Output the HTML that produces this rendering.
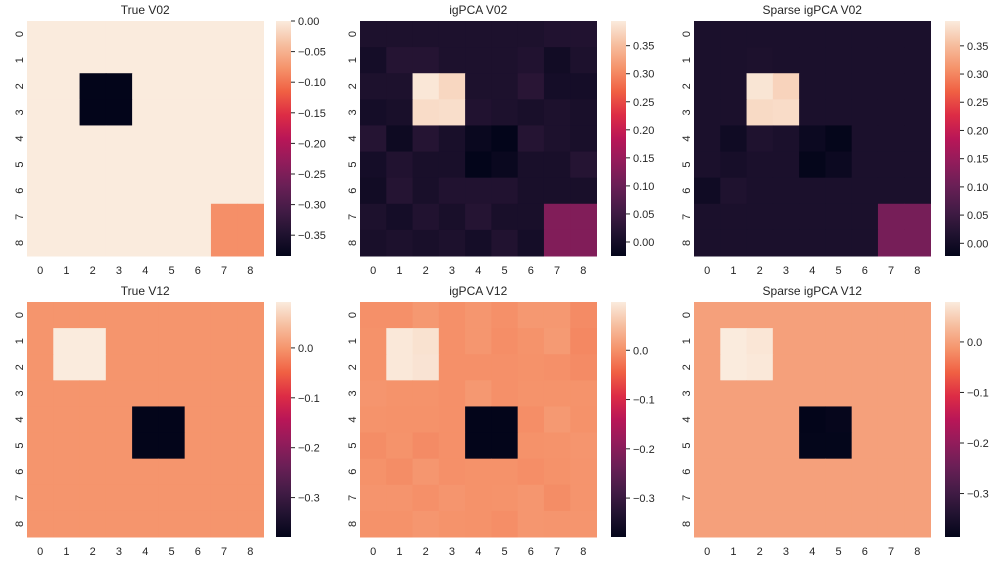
<!DOCTYPE html>
<html><head><meta charset="utf-8"><style>
html,body{margin:0;padding:0;background:#fff;width:994px;height:564px;overflow:hidden}
text{font-family:"Liberation Sans",sans-serif;fill:#262626}
</style></head><body>
<svg id="fig" width="994" height="564" xmlns="http://www.w3.org/2000/svg"></svg>
<script>
const idx=[0,1,2,3,4,5,6,7,8];
const trueV02=[
[0,0,0,0,0,0,0,0,0],[0,0,0,0,0,0,0,0,0],
[0,0,-0.384,-0.384,0,0,0,0,0],[0,0,-0.384,-0.384,0,0,0,0,0],
[0,0,0,0,0,0,0,0,0],[0,0,0,0,0,0,0,0,0],[0,0,0,0,0,0,0,0,0],
[0,0,0,0,0,0,0,-0.08,-0.08],[0,0,0,0,0,0,0,-0.08,-0.08]];
const igV02=[
[0.01,0.01,0.01,0.01,0.01,0.01,0.01,0.015,0.015],
[0.0,0.02,0.02,0.01,0.01,0.01,0.015,-0.005,0.01],
[0.01,0.01,0.39,0.375,0.01,0.01,0.025,0.0,0.0],
[0.0,0.005,0.38,0.382,0.015,0.01,0.005,0.01,0.005],
[0.02,-0.01,0.02,0.005,-0.015,-0.025,0.02,0.01,0.005],
[0.0,0.015,0.005,0.005,-0.025,-0.015,0.005,0.005,0.02],
[-0.005,0.02,0.005,0.015,0.015,0.015,0.005,0.005,0.005],
[0.01,0.0,0.015,0.005,0.02,0.005,0.005,0.125,0.125],
[0.005,0.01,0.005,0.01,0.0,0.015,0.0,0.125,0.125]];
const spV02=[
[0.01,0.01,0.01,0.01,0.01,0.01,0.01,0.01,0.01],
[0.01,0.01,0.012,0.01,0.01,0.01,0.01,0.01,0.01],
[0.01,0.01,0.388,0.372,0.01,0.01,0.01,0.01,0.01],
[0.01,0.01,0.378,0.38,0.01,0.01,0.01,0.01,0.01],
[0.01,-0.005,0.015,0.01,-0.01,-0.02,0.01,0.01,0.01],
[0.01,0.005,0.01,0.01,-0.02,-0.01,0.01,0.01,0.01],
[-0.005,0.015,0.01,0.01,0.01,0.01,0.01,0.01,0.01],
[0.01,0.01,0.01,0.01,0.01,0.01,0.01,0.115,0.115],
[0.01,0.01,0.01,0.01,0.01,0.01,0.01,0.115,0.115]];
const trueV12=[
[0,0,0,0,0,0,0,0,0],[0,0.092,0.092,0,0,0,0,0,0],[0,0.092,0.092,0,0,0,0,0,0],
[0,0,0,0,0,0,0,0,0],[0,0,0,0,-0.379,-0.379,0,0,0],[0,0,0,0,-0.379,-0.379,0,0,0],
[0,0,0,0,0,0,0,0,0],[0,0,0,0,0,0,0,0,0],[0,0,0,0,0,0,0,0,0]];
const igV12=[
[0,0,0.008,0,0.006,0,0.008,0.008,-0.005],
[0.002,0.095,0.088,0,0.006,-0.002,0.003,0.01,-0.008],
[0.002,0.095,0.09,0,0,0,0.002,0,-0.005],
[0.005,0.003,0.003,0,0.008,0,0.003,0.003,0.003],
[0.003,0.002,0.002,0,-0.379,-0.379,-0.002,0.009,0.002],
[-0.003,0.003,-0.005,0,-0.379,-0.379,0.002,0.003,0.005],
[0.002,-0.003,0.006,0,0.002,0.002,-0.002,0.002,0.004],
[0.004,0.004,0,0.005,0.002,0.003,0.006,-0.003,0.004],
[0.002,0.002,0.006,0.003,0.002,-0.002,0.006,0.005,0.005]];
const spV12=[
[0,0,0,0,0,0,0,0,0],[0,0.079,0.074,0,0,0,0,0,0],[0,0.079,0.076,0,0,0,0,0,0],
[0,0,0,0,0,0,0,0,0],[0,0,0,0,-0.386,-0.382,0,0,0],[0,0,0,0,-0.384,-0.384,0,0,0],
[0,0,0,0,0,0,0,0,0],[0,0,0,0,0,0,0,0,0],[0,0,0,0,0,0,0,0,0]];
const titles=["True V02","igPCA V02","Sparse igPCA V02","True V12","igPCA V12","Sparse igPCA V12"];
const ticksA=[0,-0.05,-0.10,-0.15,-0.20,-0.25,-0.30,-0.35];
const ticksB=[0,0.05,0.10,0.15,0.20,0.25,0.30,0.35];
const ticksC=[0.0,-0.1,-0.2,-0.3];

const stops=["#03051A","#221331","#451C47","#6A1F56","#921C5B","#B91657","#DD2C45","#F06043","#F5936B","#F6BE9F","#FAEBDD"];
function hex(c){return [1,3,5].map(i=>parseInt(c.substr(i,2),16));}
function rocket(f){f=Math.max(0,Math.min(1,f));const p=f*10,i=Math.min(9,Math.floor(p)),t=p-i;
 const a=hex(stops[i]),b=hex(stops[i+1]);return "rgb("+a.map((v,k)=>Math.round(v+(b[k]-v)*t)).join(",")+")";}
const NS="http://www.w3.org/2000/svg",svg=document.getElementById("fig");
function el(tag,attrs,parent){const e=document.createElementNS(NS,tag);for(const k in attrs)e.setAttribute(k,attrs[k]);(parent||svg).appendChild(e);return e;}
function fmt(v,d){const s=Math.abs(v).toFixed(d);return (v<-1e-9?"\u2212":"")+s;}
const defs=el("defs",{});
const lg=el("linearGradient",{id:"rk",x1:0,y1:1,x2:0,y2:0},defs);
stops.forEach((c,i)=>el("stop",{offset:(i*10)+"%","stop-color":c},lg));

const panels=[
 {d:trueV02,x:27,y:21,vmin:-0.384,vmax:0,cx:276,ticks:ticksA,dec:2},
 {d:igV02,x:360,y:21,vmin:-0.025,vmax:0.394,cx:611,ticks:ticksB,dec:2},
 {d:spV02,x:694,y:21,vmin:-0.0225,vmax:0.394,cx:945,ticks:ticksB,dec:2},
 {d:trueV12,x:27,y:302,vmin:-0.379,vmax:0.092,cx:276,ticks:ticksC,dec:1},
 {d:igV12,x:360,y:302,vmin:-0.379,vmax:0.098,cx:611,ticks:ticksC,dec:1},
 {d:spV12,x:694,y:302,vmin:-0.386,vmax:0.079,cx:945,ticks:ticksC,dec:1}];
const W=236.5,H=235;
panels.forEach((p,pi)=>{
 const g=el("g",{});
 
 
 const cw=W/9,ch=H/9;
 const xs=c=>p.x+c*cw, ys=r=>p.y+r*ch;
 idx.forEach(r=>idx.forEach(c=>{
  const v=p.d[r][c];
  const rc=el("rect",{x:xs(c),y:ys(r),width:cw+0.5,height:ch+0.5,fill:rocket((v-p.vmin)/(p.vmax-p.vmin))},g);
  
  
 }));
 const t=el("text",{x:p.x+W/2,y:p.y-7,"text-anchor":"middle","font-size":"12"},g);
 t.textContent=titles[pi];
 
 
 idx.forEach(i=>{
  const xt=el("text",{x:xs(i)+cw/2,y:p.y+H+18,"text-anchor":"middle","font-size":"11"},g);xt.textContent=i;
  
  
  const yy=ys(i)+ch/2,xx=p.x-7;
  const yt=el("text",{x:xx,y:yy,"text-anchor":"middle","font-size":"11",transform:"rotate(-90 "+xx+" "+yy+")","dominant-baseline":"central"},g);yt.textContent=i;
  
  
 });
 const cb=el("rect",{x:p.cx,y:p.y,width:15,height:H,fill:"url(#rk)"},g);
 
 
 const cy=v=>p.y+H-(v-p.vmin)/(p.vmax-p.vmin)*H;
 p.ticks.forEach(v=>{
  const y=cy(v);
  el("line",{x1:p.cx+15,x2:p.cx+19,y1:y,y2:y,stroke:"#262626","stroke-width":1},g);
  const tl=el("text",{x:p.cx+22,y:y+4,"font-size":"11"},g);tl.textContent=fmt(v,p.dec);
  
  
 });
});
</script>
</body></html>
